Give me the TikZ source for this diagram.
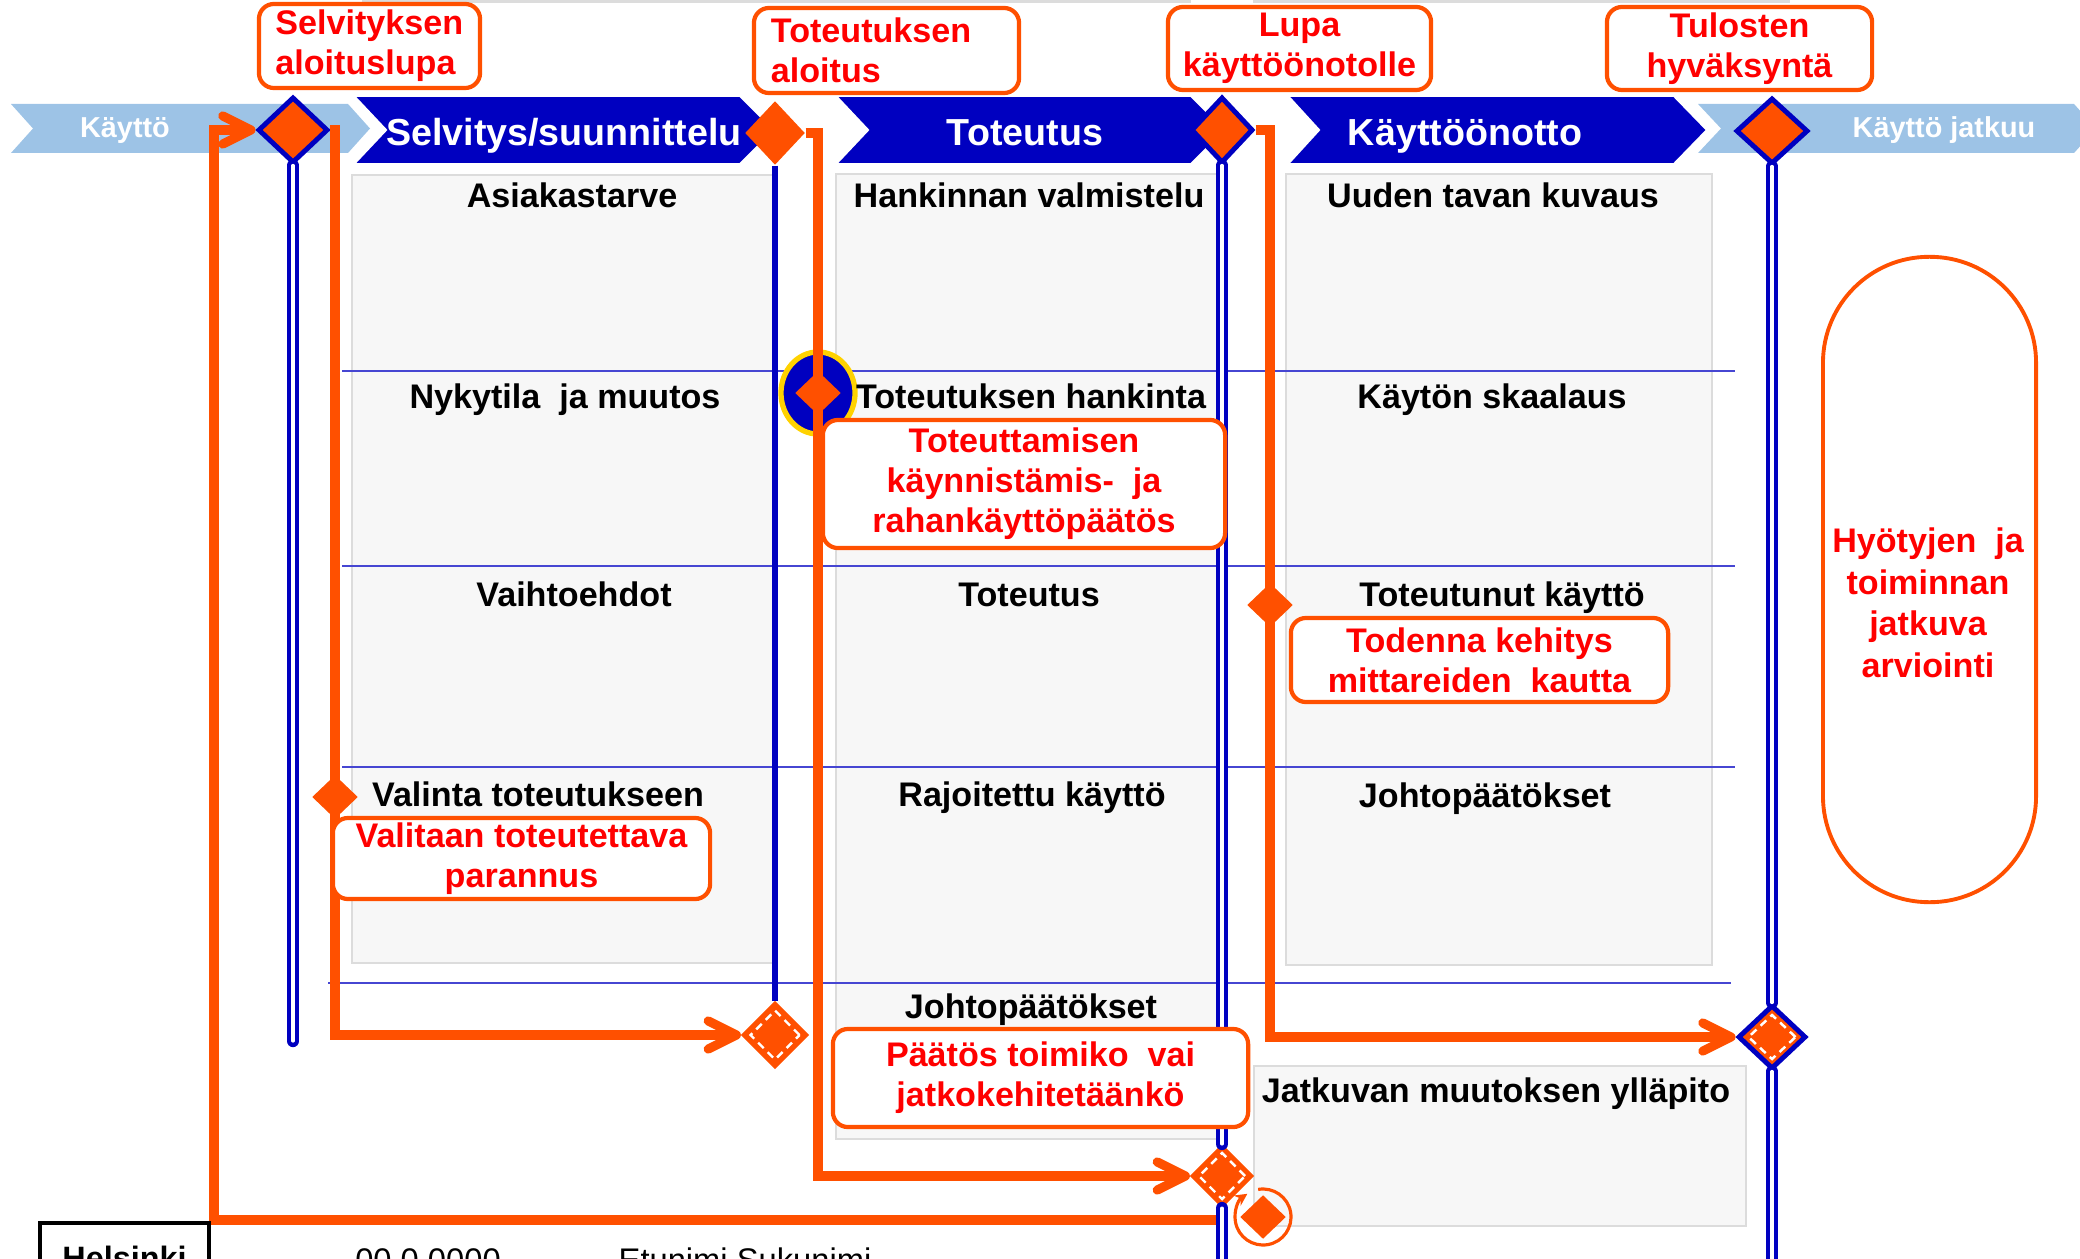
\documentclass[tikz,border=0pt]{standalone}
\usepackage{fontspec}
\setmainfont{Liberation Sans}
\usepackage{tikz}
\usetikzlibrary{shapes.geometric, arrows.meta}

\definecolor{routeorange}{HTML}{FF5000}
\definecolor{gateblue}{HTML}{0000C0}
\definecolor{usageblue}{HTML}{9DC3E6}
\definecolor{rowblue}{HTML}{4646D2}
\definecolor{columnfill}{HTML}{F7F7F7}
\definecolor{columnedge}{HTML}{DCDCDC}
\definecolor{labelred}{HTML}{FF0000}
\definecolor{ringyellow}{HTML}{FFD200}

\tikzstyle{phase} = [
    text=white,
    font=\fontsize{10.7}{12.8}\selectfont\bfseries,
    anchor=base,
    inner sep=0pt
]
\tikzstyle{usage} = [
    text=white,
    font=\fontsize{8.2}{9.8}\selectfont\bfseries,
    anchor=base,
    inner sep=0pt
]
\tikzstyle{task} = [
    text=black,
    font=\fontsize{9.7}{11.6}\selectfont\bfseries,
    anchor=base,
    inner sep=0pt
]
\tikzstyle{decision} = [
    rectangle,
    rounded corners=0.15cm,
    draw=routeorange,
    line width=1.2pt,
    fill=white,
    text=labelred,
    font=\fontsize{9.7}{11.4}\selectfont\bfseries,
    align=center,
    inner sep=0pt
]
\tikzstyle{gate} = [diamond, fill=routeorange, draw=gateblue, line width=1.4pt, inner sep=0pt]
\tikzstyle{milestone} = [diamond, fill=routeorange, inner sep=0pt]
\tikzstyle{checkpoint} = [diamond, fill=routeorange, inner sep=0pt, minimum width=0.46cm, minimum height=0.44cm]
\tikzstyle{review} = [diamond, fill=routeorange, draw=routeorange, line width=0.6pt, inner sep=0pt]
\tikzstyle{reviewdash} = [diamond, draw=white, dash pattern=on 2.2pt off 1.6pt, line width=0.7pt, inner sep=0pt]
\tikzstyle{route} = [line width=2.6pt, draw=routeorange]
\tikzstyle{arrow} = [route, -{Straight Barb[length=8pt, width=8pt, round]}]
\tikzstyle{gateline} = [draw=gateblue, line width=1.3pt, double=white, double distance=0.9pt, line cap=round]
\tikzstyle{gatesingle} = [draw=gateblue, line width=1.7pt]
\tikzstyle{rowline} = [draw=rowblue, line width=0.6pt]
\tikzstyle{column} = [draw=columnedge, fill=columnfill, line width=0.7pt]

\begin{document}
\begin{tikzpicture}[x=0.01cm, y=-0.01cm]
\useasboundingbox (0,0) rectangle (2080,1258);
\clip (0,0) rectangle (2080,1258);

% Columns
\fill[columnedge] (362,0) rectangle (1191,3);
\fill[columnedge] (1253,0) rectangle (1790,3);
\draw[column] (352,175) rectangle (773,963);
\draw[column] (836,174) rectangle (1217,1139);
\draw[column] (1286,174) rectangle (1712,965);
\draw[column] (1254,1066) rectangle (1746,1226);

% Rows
\draw[rowline] (342,371) -- (1735,371);
\draw[rowline] (342,566) -- (1735,566);
\draw[rowline] (342,767) -- (1735,767);
\draw[rowline] (328,983) -- (1731,983);

% Phase bar
\fill[usageblue] (11,104) -- (348,104) -- (370,128.5) -- (348,153) -- (11,153) -- (33,128.5) -- cycle;
\fill[usageblue] (1698,104) -- (2074,104) -- (2096,128.5) -- (2074,153) -- (1698,153) -- (1721,128.5) -- cycle;
\filldraw[gateblue, draw=white, line width=1pt] (352,95) -- (740,95) -- (775,130) -- (740,165) -- (352,165) -- (385,130) -- cycle;
\filldraw[gateblue, draw=white, line width=1pt] (834,95) -- (1191,95) -- (1226,130) -- (1191,165) -- (834,165) -- (867,130) -- cycle;
\filldraw[gateblue, draw=white, line width=1pt] (1286,95) -- (1674,95) -- (1708,130) -- (1674,165) -- (1286,165) -- (1318,130) -- cycle;

\node (usage) [usage] at (125,138) {Käyttö};
\node (study) [phase] at (564,146) {Selvitys/suunnittelu};
\node (build) [phase] at (1025,146) {Toteutus};
\node (deploy) [phase] at (1465,146) {Käyttöönotto};
\node (usagecont) [usage] at (1944,138) {Käyttö jatkuu};

% Milestones
\node (ring) [ellipse, draw=ringyellow, fill=gateblue, line width=1.5pt, minimum width=0.74cm, minimum height=0.82cm, inner sep=0pt] at (818,393) {};
\node (D1) [gate, minimum width=0.70cm, minimum height=0.66cm] at (293,130) {};
\node (D2) [milestone, minimum width=0.60cm, minimum height=0.64cm] at (775,133) {};
\node (D3) [gate, minimum width=0.62cm, minimum height=0.66cm] at (1222,130) {};
\node (D4) [gate, minimum width=0.72cm, minimum height=0.66cm] at (1772,131) {};
\node (D5) [review, minimum size=0.66cm] at (775,1035) {};
\node (D5in) [reviewdash, minimum size=0.50cm] at (D5) {};
\node (D6) [review, minimum size=0.62cm] at (1222,1176) {};
\node (D6in) [reviewdash, minimum size=0.47cm] at (D6) {};
\node (D7) [gate, minimum width=0.68cm, minimum height=0.64cm] at (1772,1037) {};
\node (D7in) [reviewdash, minimum width=0.48cm, minimum height=0.45cm] at (D7) {};
\node (choice) [checkpoint] at (335,797) {};
\node (procure) [checkpoint] at (ring) {};
\node (verify) [checkpoint] at (1270,605) {};
\node (renew) [checkpoint] at (1263,1217) {};
\draw[routeorange, line width=0.9pt, -{Stealth[length=3.5pt, width=3.5pt]}] (renew.center) ++(-100:28) arc[start angle=-100, end angle=236, radius=28];

% Arrows
\coordinate (loopstart) at (1226,1220);
\coordinate (loopcorner) at (214,1220);
\draw [arrow] (loopstart) -- (loopcorner) |- (D1.west);
\draw [arrow] (D1.east) -| (choice.center) |- (D5.west);
\draw [arrow] (D2.east) -| (procure.center) |- (D6.west);
\draw [arrow] (D3.east) -| (verify.center) |- (D7.west);

% Gates
\coordinate (gate1end) at (293,1041);
\coordinate (gate3end) at (1222,1290);
\coordinate (gate4end) at (1772,1290);
\draw [gateline] (D1.south) -- (gate1end);
\draw [gatesingle] (D2.south) -- (D5.north);
\draw [gateline] (D3.south) -- (D6.north);
\draw [gateline] (D6.south) -- (gate3end);
\draw [gateline] (D4.south) -- (D7.north);
\draw [gateline] (D7.south) -- (gate4end);

% Tasks
\node (need) [task] at (572,208) {Asiakastarve};
\node (current) [task] at (565,408) {Nykytila~ ja muutos};
\node (options) [task] at (574,606) {Vaihtoehdot};
\node (select) [task] at (538,806) {Valinta toteutukseen};
\node (prep) [task] at (1029,208) {Hankinnan valmistelu};
\node (procurement) [task] at (1031,408) {Toteutuksen hankinta};
\node (implementation) [task] at (1029,606) {Toteutus};
\node (limited) [task] at (1032,806) {Rajoitettu käyttö};
\node (conclusions) [task] at (1031,1018) {Johtopäätökset};
\node (newway) [task] at (1493,208) {Uuden tavan kuvaus};
\node (scaling) [task] at (1492,408) {Käytön skaalaus};
\node (actual) [task] at (1502,606) {Toteutunut käyttö};
\node (conclusions2) [task] at (1485,807) {Johtopäätökset};
\node (upkeep) [task] at (1496,1102) {Jatkuvan muutoksen ylläpito};

% Decisions
\node (startpermit) [decision, minimum width=2.21cm, minimum height=0.84cm, text width=1.88cm, align=left, inner xsep=0.165cm] at (369.5,46) {Selvityksen\\aloituslupa};
\node (buildstart) [decision, minimum width=2.65cm, minimum height=0.85cm, text width=2.31cm, align=left, inner xsep=0.17cm] at (886.5,50.5) {Toteutuksen\\aloitus};
\node (deploypermit) [decision, minimum width=2.63cm, minimum height=0.83cm] at (1299.5,48.5) {Lupa\\käyttöönotolle};
\node (approval) [decision, minimum width=2.65cm, minimum height=0.83cm] at (1739.5,48.5) {Tulosten\\hyväksyntä};
\node (fundingdecision) [decision, minimum width=4.02cm, minimum height=1.28cm] at (1024,484) {Toteuttamisen\\käynnistämis-~ ja\\rahankäyttöpäätös};
\node (verifynote) [decision, minimum width=3.77cm, minimum height=0.84cm] at (1479.5,660) {Todenna kehitys\\mittareiden~ kautta};
\node (selectnote) [decision, minimum width=3.77cm, minimum height=0.81cm] at (521.5,858.5) {Valitaan toteutettava\\parannus};
\node (continuenote) [decision, minimum width=4.15cm, minimum height=0.98cm] at (1040.5,1078) {Päätös toimiko~ vai\\jatkokehitetäänkö};

\node (evaloval) [rectangle, rounded corners=1.06cm, draw=routeorange, line width=1.1pt, minimum width=2.13cm, minimum height=6.45cm, inner sep=0pt] at (1929.5,579.5) {};
\node (evaltext) [text=labelred, font=\fontsize{9.7}{11.8}\selectfont\bfseries, align=center] at (1928,603) {Hyötyjen~ ja\\toiminnan\\jatkuva\\arviointi};

% Footer
\node (city) [draw=black, line width=0.9pt, minimum width=1.69cm, minimum height=0.70cm, inner sep=0pt, font=\fontsize{9.2}{11}\selectfont\bfseries] at (124.5,1258) {Helsinki};
\node (date) [font=\fontsize{9.3}{11}\selectfont, anchor=base] at (428,1271) {00.0.0000};
\node (author) [font=\fontsize{9.3}{11}\selectfont, anchor=base] at (745,1271) {Etunimi Sukunimi};

\end{tikzpicture}
\end{document}
